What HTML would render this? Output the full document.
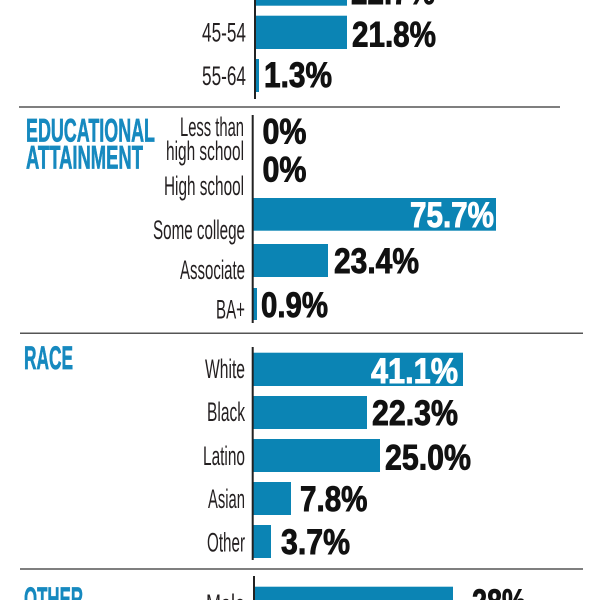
<!DOCTYPE html>
<html><head><meta charset="utf-8"><style>
html,body{margin:0;padding:0;background:#fff;}
svg{display:block;}
.lb{font-family:"Liberation Sans",sans-serif;font-size:26.5px;fill:#231f20;}
.v{font-family:"Liberation Sans",sans-serif;font-weight:bold;font-size:35.5px;fill:#111;stroke:#111;stroke-width:0.9px;}
.w{font-family:"Liberation Sans",sans-serif;font-weight:bold;font-size:35.5px;fill:#fff;stroke:#fff;stroke-width:0.9px;}
.h{font-family:"Liberation Sans",sans-serif;font-weight:bold;font-size:32.5px;fill:#1689bf;stroke:#1689bf;stroke-width:0.7px;}
</style></head><body>
<svg width="600" height="600" viewBox="0 0 600 600" xmlns="http://www.w3.org/2000/svg">
<rect width="600" height="600" fill="#fff"/>
<g fill="#0b84b4">
<rect x="255" y="-30" width="92" height="35.7"/>
<rect x="255" y="15.7" width="92" height="33.3"/>
<rect x="255" y="59" width="4" height="33"/>
<rect x="253" y="198" width="243" height="32.7"/>
<rect x="253" y="244" width="75" height="33"/>
<rect x="253" y="288" width="4" height="32"/>
<rect x="253" y="352.7" width="210" height="33.3"/>
<rect x="253" y="396" width="114" height="33"/>
<rect x="253" y="439" width="127" height="33"/>
<rect x="253" y="482" width="38" height="33"/>
<rect x="253" y="525" width="18" height="33"/>
<rect x="254" y="586.7" width="199" height="40"/>
</g>
<g stroke="#222" stroke-width="2">
<line x1="255" y1="0" x2="255" y2="99"/>
<line x1="252.7" y1="115" x2="252.7" y2="323"/>
<line x1="252.7" y1="347" x2="252.7" y2="560"/>
<line x1="254" y1="576" x2="254" y2="600"/>
</g>
<g stroke="#555" stroke-width="1.5">
<line x1="19" y1="107" x2="560" y2="107"/>
<line x1="20" y1="333.3" x2="583" y2="333.3"/>
<line x1="20" y1="569" x2="583" y2="569"/>
</g>
<text class="h" x="26" y="141.5" textLength="129" lengthAdjust="spacingAndGlyphs">EDUCATIONAL</text>
<text class="h" x="26" y="168.3" textLength="117" lengthAdjust="spacingAndGlyphs">ATTAINMENT</text>
<text class="h" x="24" y="369" textLength="49" lengthAdjust="spacingAndGlyphs">RACE</text>
<text class="h" x="24" y="610" textLength="59" lengthAdjust="spacingAndGlyphs">OTHER</text>
<g text-anchor="end">
<text class="lb" x="246" y="41.7" textLength="44" lengthAdjust="spacingAndGlyphs">45-54</text>
<text class="lb" x="246" y="85" textLength="44" lengthAdjust="spacingAndGlyphs">55-64</text>
<text class="lb" x="244" y="136" textLength="64" lengthAdjust="spacingAndGlyphs">Less than</text>
<text class="lb" x="244" y="160" textLength="78" lengthAdjust="spacingAndGlyphs">high school</text>
<text class="lb" x="244" y="195" textLength="80" lengthAdjust="spacingAndGlyphs">High school</text>
<text class="lb" x="245" y="239" textLength="92" lengthAdjust="spacingAndGlyphs">Some college</text>
<text class="lb" x="245" y="279" textLength="65" lengthAdjust="spacingAndGlyphs">Associate</text>
<text class="lb" x="245" y="318.3" textLength="29" lengthAdjust="spacingAndGlyphs">BA+</text>
<text class="lb" x="245" y="378" textLength="40" lengthAdjust="spacingAndGlyphs">White</text>
<text class="lb" x="245" y="421" textLength="38" lengthAdjust="spacingAndGlyphs">Black</text>
<text class="lb" x="245" y="465" textLength="42" lengthAdjust="spacingAndGlyphs">Latino</text>
<text class="lb" x="245" y="508" textLength="37" lengthAdjust="spacingAndGlyphs">Asian</text>
<text class="lb" x="245" y="551.7" textLength="38" lengthAdjust="spacingAndGlyphs">Other</text>
<text class="lb" x="245" y="613" textLength="39" lengthAdjust="spacingAndGlyphs">Male</text>
</g>
<text class="v" x="351" y="4" textLength="84" lengthAdjust="spacingAndGlyphs">22.7%</text>
<text class="v" x="352" y="46.7" textLength="84" lengthAdjust="spacingAndGlyphs">21.8%</text>
<text class="v" x="264" y="87" textLength="68" lengthAdjust="spacingAndGlyphs">1.3%</text>
<text class="v" x="262.5" y="143.3" textLength="44" lengthAdjust="spacingAndGlyphs">0%</text>
<text class="v" x="262.5" y="181.7" textLength="44" lengthAdjust="spacingAndGlyphs">0%</text>
<text class="w" x="410" y="227" textLength="84" lengthAdjust="spacingAndGlyphs">75.7%</text>
<text class="v" x="334" y="273" textLength="85" lengthAdjust="spacingAndGlyphs">23.4%</text>
<text class="v" x="261" y="317" textLength="67" lengthAdjust="spacingAndGlyphs">0.9%</text>
<text class="w" x="371" y="383" textLength="87" lengthAdjust="spacingAndGlyphs">41.1%</text>
<text class="v" x="372" y="425" textLength="86" lengthAdjust="spacingAndGlyphs">22.3%</text>
<text class="v" x="385" y="469.5" textLength="86" lengthAdjust="spacingAndGlyphs">25.0%</text>
<text class="v" x="300" y="511" textLength="67.5" lengthAdjust="spacingAndGlyphs">7.8%</text>
<text class="v" x="281" y="554" textLength="69" lengthAdjust="spacingAndGlyphs">3.7%</text>
<text class="v" x="472" y="614" textLength="54" lengthAdjust="spacingAndGlyphs">28%</text>
</svg>
</body></html>
